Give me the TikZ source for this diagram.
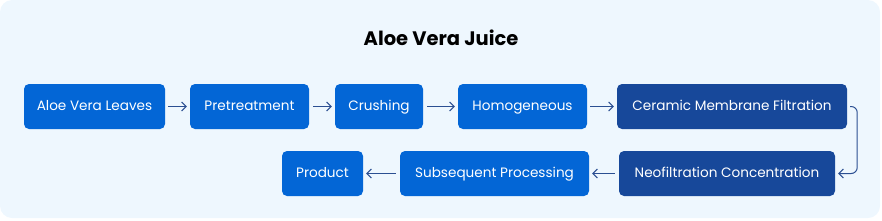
\documentclass[tikz,border=0pt]{standalone}
\usepackage{fontspec}
\setmainfont{Poppins}
\usetikzlibrary{arrows.meta}
\definecolor{bgc}{HTML}{EEF7FE}
\definecolor{boxa}{HTML}{0366D6}
\definecolor{boxb}{HTML}{17489A}
\definecolor{arr}{HTML}{2B4F92}
\tikzset{
  stepbox/.style={rounded corners=5pt, minimum height=45pt, inner sep=0pt, text=white, font=\fontsize{13.6pt}{15pt}\selectfont, text height=10pt, text depth=3pt, anchor=center},
  lightbox/.style={stepbox, fill=boxa},
  darkbox/.style={stepbox, fill=boxb},
  flow/.style={draw=arr, line width=1pt, -{Straight Barb[length=4.5pt,width=9pt]}},
}
\begin{document}
\begin{tikzpicture}[x=1pt,y=-1pt]
\useasboundingbox (0,0) rectangle (882,220);
\fill[bgc, rounded corners=12pt] (0,0) rectangle (880,218);
\node[font=\fontsize{19.5pt}{22pt}\selectfont\bfseries] (title) at (441,38) {Aloe Vera Juice};
\node[lightbox, minimum width=141pt] (a) at (94.5,106.5) {Aloe Vera Leaves};
\node[lightbox, minimum width=119pt] (b) at (249.5,106.5) {Pretreatment};
\node[lightbox, minimum width=88pt] (c) at (379,106.5) {Crushing};
\node[lightbox, minimum width=129pt] (d) at (522.5,106.5) {Homogeneous};
\node[darkbox, minimum width=230pt] (e) at (732,106.5) {Ceramic Membrane Filtration};
\node[darkbox, minimum width=216pt] (f) at (727,173.5) {Neofiltration Concentration};
\node[lightbox, minimum width=189pt] (g) at (494.5,173.5) {Subsequent Processing};
\node[lightbox, minimum width=81pt] (h) at (322.5,173.5) {Product};
\draw[flow, shorten <=3pt, shorten >=3pt] (a) -- (b);
\draw[flow, shorten <=4pt, shorten >=3pt] (b) -- (c);
\draw[flow, shorten <=4pt, shorten >=3pt] (c) -- (d);
\draw[flow, shorten <=3pt, shorten >=3pt] (d) -- (e);
\draw[flow, shorten <=4pt, shorten >=3pt] (f) -- (g);
\draw[flow, shorten <=4pt, shorten >=3pt] (g) -- (h);
\draw[flow, rounded corners=6pt] ([xshift=3pt]e.east) -- ++(7,0) -- ([xshift=22pt]f.east) -- ([xshift=3pt]f.east);
\end{tikzpicture}
\end{document}
